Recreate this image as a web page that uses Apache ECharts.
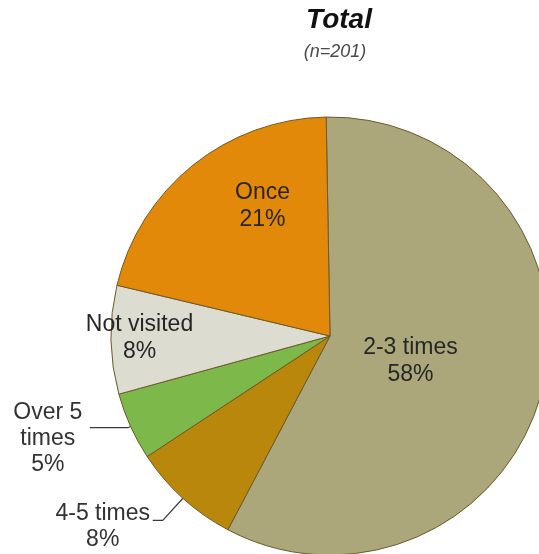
<!DOCTYPE html>
<html>
<head>
<meta charset="utf-8">
<script src="https://cdn.jsdelivr.net/npm/echarts@6/dist/echarts.min.js"></script>
<style>
  html, body { margin: 0; padding: 0; background: #ffffff; }
  #chart { width: 539px; height: 554px; }
</style>
</head>
<body>
<div id="chart"></div>
<script>
// Visit frequency shares, clockwise from 12 o'clock
const categories = ['2-3 times', '4-5 times', 'Over 5\ntimes', 'Not visited', 'Once'];
const shares = [58, 8, 5, 8, 21];
const colors = ['#aba77b', '#b9870b', '#7cb84a', '#dcdcd0', '#e3890a'];
const titleText = 'Total';
const subtitleText = '(n=201)';

const textColor = '#262626';
const fontFamily = 'Liberation Sans';

// Per-slice label placement: inside labels are nudged along the slice,
// the two narrow slices get leader lines to labels outside the pie.
const labelStyles = [
  { position: 'inside', offset: [-29, -1] },
  { position: 'outside', lineLen: 30, lineLen2: 10, width: 96, padTop: 12, gap: 2 },
  { position: 'outside', lineLen: 3, lineLen2: 38, width: 72, padTop: 22, gap: 6 },
  { position: 'inside', offset: [-78, 0] },
  { position: 'inside', offset: [3, -42] }
];

const seriesData = categories.map((name, i) => {
  const ls = labelStyles[i];
  const item = {
    name: name,
    value: shares[i],
    itemStyle: { color: colors[i] }
  };
  if (ls.position === 'inside') {
    item.label = {
      position: 'inside',
      offset: ls.offset,
      formatter: '{b}\n{d}%',
      color: textColor,
      fontFamily: fontFamily,
      fontSize: 23,
      lineHeight: 27,
      align: 'center'
    };
    item.labelLine = { show: false };
  } else {
    item.label = {
      position: 'outside',
      formatter: function (p) {
        const lines = p.name.split('\n').concat([Math.round(p.percent) + '%']);
        return lines.map(l => '{c|' + l + '}').join('\n');
      },
      padding: [ls.padTop, 0, 0, 0],
      rich: {
        c: {
          width: ls.width,
          align: 'center',
          color: '#333333',
          fontSize: 23,
          lineHeight: 26,
          fontFamily: fontFamily
        }
      },
      distanceToLabelLine: ls.gap
    };
    item.labelLine = {
      show: true,
      length: ls.lineLen,
      length2: ls.lineLen2,
      smooth: false,
      lineStyle: { color: '#3a3a3a', width: 1.2 }
    };
  }
  return item;
});

const chart = echarts.init(document.getElementById('chart'), null, { renderer: 'canvas' });
chart.setOption({
  animation: false,
  backgroundColor: '#ffffff',
  title: [{
    text: titleText,
    left: 334,
    top: 1,
    textAlign: 'center',
    textStyle: {
      fontFamily: fontFamily,
      fontSize: 28,
      fontWeight: 'bold',
      fontStyle: 'italic',
      color: '#111111'
    }
  }, {
    text: subtitleText,
    left: 330,
    top: 38,
    textAlign: 'center',
    textStyle: {
      fontFamily: fontFamily,
      fontSize: 18,
      fontWeight: 'normal',
      fontStyle: 'italic',
      color: '#4a4a4a'
    }
  }],
  series: [{
    type: 'pie',
    center: [330, 336],
    radius: 219,
    startAngle: 91,
    clockwise: true,
    avoidLabelOverlap: false,
    minShowLabelAngle: 0,
    itemStyle: {
      borderColor: '#6e5a2a',
      borderWidth: 1
    },
    emphasis: { disabled: true },
    data: seriesData
  }]
});
</script>
</body>
</html>
